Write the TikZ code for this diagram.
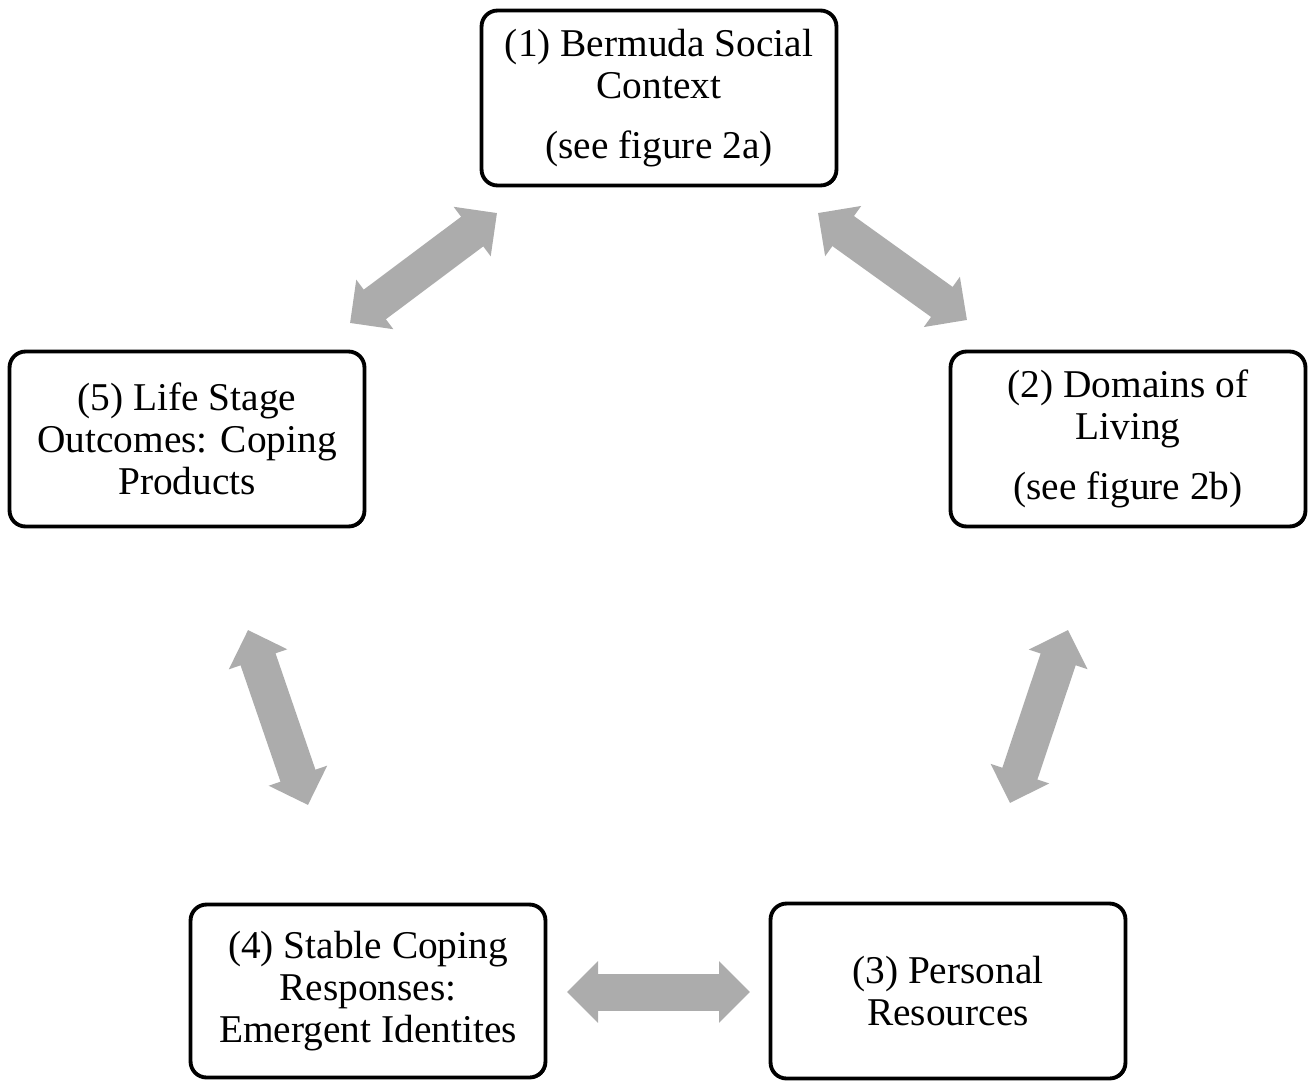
\documentclass[tikz,border=0pt]{standalone}
\usepackage{fontspec}
\setmainfont{Liberation Serif}
\usepackage{tikz}
\usetikzlibrary{arrows.meta,positioning,calc,shadows}

\begin{document}
\begin{tikzpicture}[x=0.02cm, y=-0.02cm,
    stage/.style={draw, line width=2.2pt, rounded corners=0.32cm, fill=white,
      minimum width=7.1cm, minimum height=3.5cm, align=center,
      font=\fontsize{22.4}{24}\selectfont,
      drop shadow={shadow xshift=0.8pt, shadow yshift=-0.8pt, fill=black, opacity=1}},
    link/.style={line width=0.74cm, color=gray!65,
      {Triangle[length=0.62cm, width=1.2cm]}-{Triangle[length=0.62cm, width=1.2cm]}}]
    \useasboundingbox (0,0) rectangle (1310,1081);
    % Boxes
    \node[stage] (ctx) at (659,98) {(1) Bermuda Social\\Context\\[10pt](see figure 2a)};
    \node[stage] (dom) at (1128,439) {(2) Domains of\\Living\\[10pt](see figure 2b)};
    \node[stage] (res) at (948,991) {(3) Personal\\Resources};
    \node[stage, minimum height=3.46cm] (cop) at (368,991) {(4) Stable Coping\\Responses:\\Emergent Identites};
    \node[stage] (out) at (187,439) {(5) Life Stage\\Outcomes: Coping\\Products};
    % Arrow ends
    \coordinate (ctxL) at (497,213);
    \coordinate (outT) at (350,323);
    \coordinate (ctxR) at (818,213);
    \coordinate (domT) at (967,320);
    \coordinate (domB) at (1068,630);
    \coordinate (resT) at (1010,803);
    \coordinate (resL) at (750,992);
    \coordinate (copR) at (567,992);
    \coordinate (copT) at (308,805);
    \coordinate (outB) at (248,630);
    % Two-way links
    \draw[link] (outT) -- (ctxL);
    \draw[link] (ctxR) -- (domT);
    \draw[link] (domB) -- (resT);
    \draw[link] (copR) -- (resL);
    \draw[link] (outB) -- (copT);
\end{tikzpicture}
\end{document}
